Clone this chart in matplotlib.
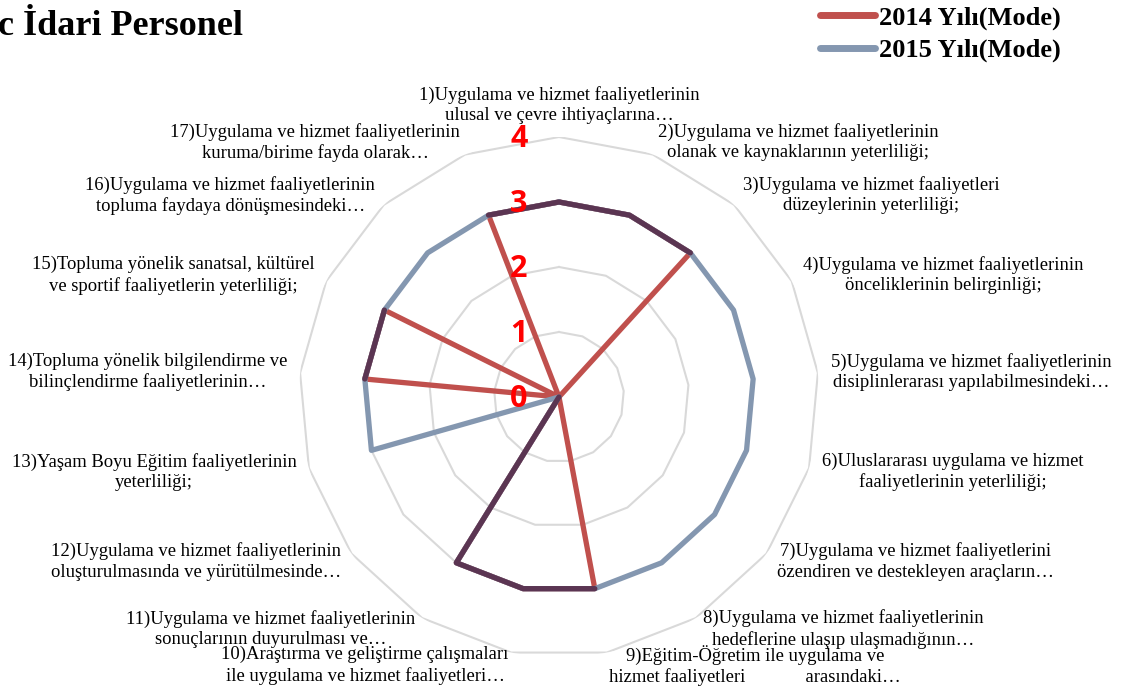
import numpy as np
import matplotlib
matplotlib.use("Agg")
import matplotlib.pyplot as plt
from matplotlib.lines import Line2D

# questionnaire items (radar axes), clockwise from the top
categories = [
    "1)Uygulama ve hizmet faaliyetlerinin\nulusal ve çevre ihtiyaçlarına…",
    "2)Uygulama ve hizmet faaliyetlerinin\nolanak ve kaynaklarının yeterliliği;",
    "3)Uygulama ve hizmet faaliyetleri\ndüzeylerinin yeterliliği;",
    "4)Uygulama ve hizmet faaliyetlerinin\nönceliklerinin belirginliği;",
    "5)Uygulama ve hizmet faaliyetlerinin\ndisiplinlerarası yapılabilmesindeki…",
    "6)Uluslararası uygulama ve hizmet\nfaaliyetlerinin yeterliliği;",
    "7)Uygulama ve hizmet faaliyetlerini\nözendiren ve destekleyen araçların…",
    "8)Uygulama ve hizmet faaliyetlerinin\nhedeflerine ulaşıp ulaşmadığının…",
    "9)Eğitim-Öğretim ile uygulama ve\nhizmet faaliyetleri             arasındaki…",
    "10)Araştırma ve geliştirme çalışmaları\nile uygulama ve hizmet faaliyetleri…",
    "11)Uygulama ve hizmet faaliyetlerinin\nsonuçlarının duyurulması ve…",
    "12)Uygulama ve hizmet faaliyetlerinin\noluşturulmasında ve yürütülmesinde…",
    "13)Yaşam Boyu Eğitim faaliyetlerinin\nyeterliliği;",
    "14)Topluma yönelik bilgilendirme ve\nbilinçlendirme faaliyetlerinin…",
    "15)Topluma yönelik sanatsal, kültürel\nve sportif faaliyetlerin yeterliliği;",
    "16)Uygulama ve hizmet faaliyetlerinin\ntopluma faydaya dönüşmesindeki…",
    "17)Uygulama ve hizmet faaliyetlerinin\nkuruma/birime fayda olarak…",
]
mode_2014 = [3, 3, 3, 0, 0, 0, 0, 0, 3, 3, 3, 0, 0, 3, 3, 0, 3]
mode_2015 = [3, 3, 3, 3, 3, 3, 3, 3, 3, 3, 3, 0, 3, 3, 3, 3, 3]
series_names = ["2014 Yılı(Mode)", "2015 Yılı(Mode)"]
levels = [0, 1, 2, 3, 4]
title = "c İdari Personel"

red = "#C0504D"
blue = "#8497B0"
dark = "#5B3552"   # where both series run along the same segment
serif = ["Liberation Serif", "DejaVu Serif"]

n = len(categories)
angles = np.arange(n) * 2 * np.pi / n
ang_c = np.append(angles, angles[0])


def closed(v):
    return np.append(v, v[0])


fig = plt.figure(figsize=(11.32, 6.86), dpi=100)
ax = fig.add_axes([0.2641, 0.0423, 0.4594, 0.758], projection="polar")
ax.set_theta_zero_location("N")
ax.set_theta_direction(-1)
ax.set_ylim(0, levels[-1])
ax.set_xticks([])
ax.set_yticks([])
ax.grid(False)
ax.spines["polar"].set_visible(False)
ax.patch.set_visible(False)

# polygon gridlines
for lv in levels[1:]:
    ax.plot(ang_c, [lv] * (n + 1), color="#D9D9D9", lw=1.5, zorder=1)

a = closed(mode_2014)
b = closed(mode_2015)
lw = 3.8
ax.plot(ang_c, a, color=red, lw=lw, solid_joinstyle="round", solid_capstyle="round", zorder=3)
ax.plot(ang_c, b, color=blue, lw=lw, solid_joinstyle="round", solid_capstyle="round", zorder=3)

# shared segments drawn as runs in the darker blend colour
shared = [a[i] == b[i] and a[i + 1] == b[i + 1] for i in range(n)]
start = next((i for i in range(n) if not shared[i]), 0)
run = []
for k in range(1, n + 1):
    i = (start + k) % n
    if shared[i]:
        if not run:
            run = [i]
        run.append(i + 1)
    elif run:
        ax.plot(ang_c[run], a[run], color=dark, lw=lw, solid_joinstyle="round",
                solid_capstyle="round", zorder=4)
        run = []
if run:
    ax.plot(ang_c[run], a[run], color=dark, lw=lw, solid_joinstyle="round",
            solid_capstyle="round", zorder=4)

# value axis labels
for lv in levels:
    ax.annotate(str(lv), xy=(0, lv), xytext=(-40, -2), textcoords="offset pixels",
                ha="center", va="center", color="red", fontsize=22,
                fontweight="bold", family="Open Sans", zorder=5)

# category labels around the web
label_r = 4.2
for ang, lab in zip(angles, categories):
    s = np.sin(ang)
    if abs(s) < 0.05:
        ha, va = "center", "bottom"
    elif s > 0:
        ha, va = "left", "center"
    else:
        ha, va = "right", "center"
    ax.text(ang, label_r, lab, ha=ha, va=va, multialignment="center",
            fontsize=13.4, family=serif, linespacing=1.24)

fig.text(243 / 1132, 1 - 35 / 686, title, ha="right", va="baseline",
         fontsize=26, fontweight="bold", family=serif)

handles = [Line2D([], [], color=red, lw=5, solid_capstyle="round"),
           Line2D([], [], color=blue, lw=5, solid_capstyle="round")]
fig.legend(handles, series_names, loc="upper left",
           bbox_to_anchor=(820 / 1132, 1 - 6 / 686), frameon=False,
           borderpad=0, borderaxespad=0, handlelength=2.1, handletextpad=0.15,
           labelspacing=0.32, prop={"family": serif, "weight": "bold", "size": 19})

fig.savefig("out.png", dpi=100)
